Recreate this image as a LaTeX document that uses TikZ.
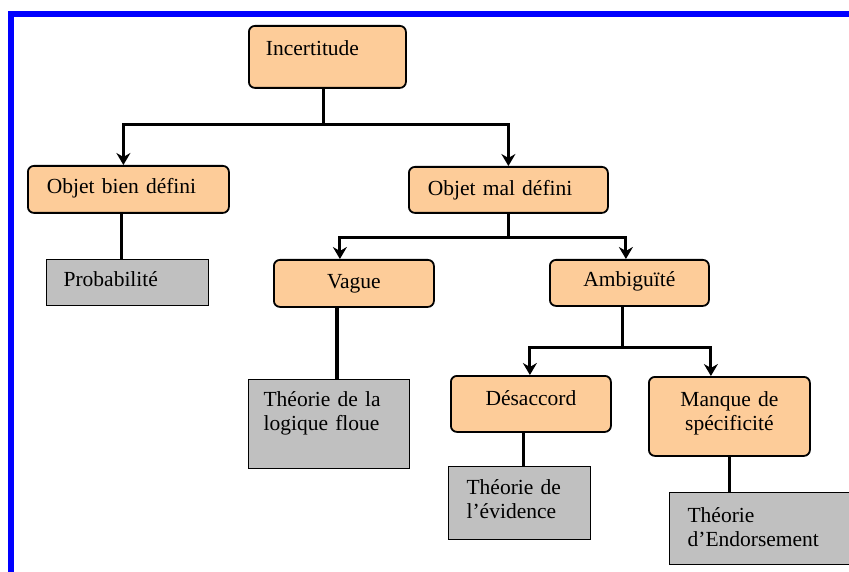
\documentclass[tikz,border=0pt]{standalone}
\usepackage{fontspec}
\setmainfont{Liberation Serif}
\usetikzlibrary{arrows.meta}
\definecolor{peach}{RGB}{253,204,153}
\definecolor{greybox}{RGB}{192,192,192}

\begin{document}
\begin{tikzpicture}[x=1pt, y=-1pt,
every node/.style = {font=\fontsize{21.5}{24}\selectfont, inner ysep=0pt,
                     anchor=north west},
     orbox/.style = {draw, line width=1.8pt, rounded corners=6pt, fill=peach},
     grbox/.style = {draw, line width=1.2pt, fill=greybox},
       lnk/.style = {line width=3pt},
       arr/.style = {lnk, -{Stealth[length=12pt, width=14pt, inset=4pt]}}
                    ]
    % page and blue frame
    \useasboundingbox (0,0) rectangle (849,572);
    \clip (0,0) rectangle (849,572);
    \fill[white] (0,0) rectangle (849,572);
    \draw[blue, line width=6pt] (11,590) -- (11,14) -- (870,14);

    % boxes
    \node (incert) [orbox, text width=123pt, inner xsep=17pt,
                    text height=30pt, text depth=32pt] at (248,25) {Incertitude};
    \node (bien) [orbox, text width=163pt, inner xsep=19pt,
                  text height=28pt, text depth=19pt] at (27,165) {Objet bien défini};
    \node (mal) [orbox, text width=161pt, inner xsep=19pt,
                 text height=29pt, text depth=17pt] at (408,166) {Objet mal défini};
    \node (proba) [grbox, text width=128pt, inner xsep=17pt,
                   text height=27pt, text depth=19pt] at (46,259) {Probabilité};
    \node (vague) [orbox, align=center, text width=140pt, inner xsep=10pt,
                   text height=29pt, text depth=18pt] at (273,259) {Vague};
    \node (ambig) [orbox, align=center, text width=139pt, inner xsep=10pt,
                   text height=27pt, text depth=19pt] at (549,259) {Ambiguïté};
    \node (floue) [grbox, align=left, text width=131pt, inner xsep=15pt,
                   text height=27pt, text depth=62pt] at (248,379) {Théorie de la\\logique floue};
    \node (desac) [orbox, align=center, text width=140pt, inner xsep=10pt,
                   text height=30pt, text depth=26pt] at (450,375) {Désaccord};
    \node (manque) [orbox, align=center, text width=141pt, inner xsep=10pt,
                    text height=30pt, text depth=49pt] at (648,376) {Manque de\\spécificité};
    \node (evid) [grbox, align=left, text width=106pt, inner xsep=18pt,
                  text height=28pt, text depth=45pt] at (448,466) {Théorie de\\l’évidence};
    \node (endors) [grbox, align=left, text width=164pt, inner xsep=18pt,
                    text height=30pt, text depth=42pt] at (669,492) {Théorie\\d’Endorsement};

    % forks
    \coordinate (fork1) at (323,125);
    \path (mal.south) ++(0,24) coordinate (fork2);
    \path ([xshift=-6.5pt]ambig.south) ++(0,41) coordinate (fork3);

    \draw[lnk] (incert.south -| fork1) -- (fork1);
    \draw[arr] (fork1) -| ([xshift=-5pt]bien.north);
    \draw[arr] (fork1) -| (mal.north);
    \draw[lnk] ([xshift=-6.5pt]bien.south) -- ([xshift=-6.5pt]bien.south |- proba.north);

    \draw[lnk] (mal.south) -- (fork2);
    \draw[arr] (fork2) -| ([xshift=-14pt]vague.north);
    \draw[arr] (fork2) -| ([xshift=-3.5pt]ambig.north);
    \draw[lnk, line width=3.8pt] ([xshift=-17pt]vague.south) -- ([xshift=-17pt]vague.south |- floue.north);

    \draw[lnk] ([xshift=-6.5pt]ambig.south) -- (fork3);
    \draw[arr] (fork3) -| ([xshift=-1pt]desac.north);
    \draw[arr] (fork3) -| ([xshift=-18.5pt]manque.north);
    \draw[lnk] ([xshift=-7pt]desac.south) -- ([xshift=-7pt]desac.south |- evid.north);
    \draw[lnk] (manque.south) -- (manque.south |- endors.north);

\end{tikzpicture}
\end{document}
